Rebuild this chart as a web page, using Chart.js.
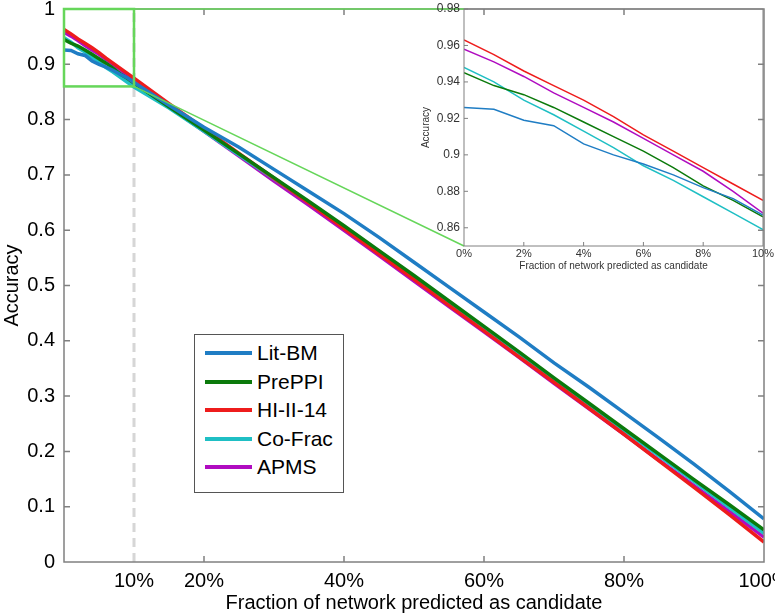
<!DOCTYPE html>
<html>
<head>
<title>Accuracy vs fraction of network</title>
<script src="https://cdn.jsdelivr.net/npm/chart.js"></script>
<style>
    body { margin: 0; background: #fff; }
    #wrap { position: relative; width: 775px; height: 615px; overflow: hidden; }
    #mainChart, #insetChart { position: absolute; top: 0; }
    #mainChart { left: 0; }
    #insetChart { left: 420px; }
    #legend {
        position: absolute; left: 194px; top: 334px; width: 148px; height: 157px;
        border: 1.5px solid #555; background: #fff;
        font-family: 'Liberation Sans', Arial, sans-serif; font-size: 21px; color: #000;
    }
    .row { position: absolute; left: 0; height: 24px; line-height: 24px; white-space: nowrap; }
    .swatch { position: absolute; left: 10px; top: 10px; width: 47px; height: 4px; }
    .lbl { position: absolute; left: 62px; top: 0; }
</style>
</head>
<body>
<div id="wrap">
    <canvas id="mainChart" width="775" height="615"></canvas>
    <canvas id="insetChart" width="355" height="272"></canvas>
    <div id="legend"></div>
</div>
<script>
    const FONT = "'Liberation Sans', Arial, sans-serif";

    const seriesNames = ['Lit-BM', 'PrePPI', 'HI-II-14', 'Co-Frac', 'APMS'];
    const seriesColors = ['#1f7dc4', '#0b7a0b', '#ee1c1c', '#1fbfc4', '#b00cc0'];

    // first 10% (also shown in the zoomed inset)
    const headX = [0, 1, 2, 3, 4, 5, 6, 7, 8, 9, 10];
    const litBmHead  = [0.926, 0.925, 0.919, 0.916, 0.906, 0.900, 0.895, 0.889, 0.882, 0.876, 0.867];
    const prePpiHead = [0.945, 0.938, 0.933, 0.926, 0.918, 0.910, 0.902, 0.893, 0.883, 0.875, 0.866];
    const hiHead     = [0.963, 0.955, 0.946, 0.938, 0.930, 0.921, 0.911, 0.902, 0.893, 0.884, 0.875];
    const coFracHead = [0.948, 0.940, 0.930, 0.922, 0.913, 0.904, 0.894, 0.886, 0.877, 0.868, 0.859];
    const apmsHead   = [0.958, 0.951, 0.943, 0.934, 0.926, 0.918, 0.909, 0.900, 0.891, 0.880, 0.868];

    // rest of the curve
    const tailX = [15, 20, 25, 30, 35, 40, 45, 50, 55, 60, 65, 70, 75, 80, 85, 90, 95, 100];
    const litBmTail  = [0.826, 0.786, 0.750, 0.710, 0.670, 0.630, 0.587, 0.542, 0.497, 0.452, 0.407, 0.360, 0.316, 0.270, 0.224, 0.177, 0.128, 0.078];
    const prePpiTail = [0.823, 0.781, 0.738, 0.695, 0.652, 0.608, 0.563, 0.518, 0.472, 0.426, 0.380, 0.333, 0.287, 0.241, 0.195, 0.149, 0.104, 0.058];
    const hiTail     = [0.829, 0.784, 0.739, 0.694, 0.649, 0.603, 0.557, 0.511, 0.464, 0.418, 0.371, 0.325, 0.278, 0.231, 0.183, 0.135, 0.086, 0.036];
    const coFracTail = [0.821, 0.779, 0.736, 0.693, 0.650, 0.605, 0.560, 0.514, 0.469, 0.423, 0.377, 0.330, 0.284, 0.238, 0.192, 0.146, 0.099, 0.052];
    const apmsTail   = [0.823, 0.779, 0.734, 0.689, 0.645, 0.600, 0.554, 0.508, 0.462, 0.416, 0.370, 0.323, 0.277, 0.231, 0.184, 0.138, 0.092, 0.045];

    const mainXTicks = [10, 20, 40, 60, 80, 100];
    const mainYTicks = [0, 0.1, 0.2, 0.3, 0.4, 0.5, 0.6, 0.7, 0.8, 0.9, 1];
    const insetXTicks = [0, 2, 4, 6, 8, 10];
    const insetYTicks = [0.86, 0.88, 0.9, 0.92, 0.94, 0.96, 0.98];

    const heads = [litBmHead, prePpiHead, hiHead, coFracHead, apmsHead];
    const tails = [litBmTail, prePpiTail, hiTail, coFracTail, apmsTail];

    const GRAY = '#808080';
    const GREEN = '#66d65a';
    // where the inset plot sits on the page
    const insetBox = { left: 464, top: 9, bottom: 246 };

    function toPoints(xs, ys) {
        return xs.map((x, i) => ({ x: x, y: ys[i] }));
    }

    const mainOverlay = {
        id: 'mainOverlay',
        beforeDatasetsDraw(chart) {
            const { ctx, chartArea: a, scales: { x } } = chart;
            const px = x.getPixelForValue(10);
            ctx.save();
            ctx.strokeStyle = '#d6d6d6';
            ctx.lineWidth = 3;
            ctx.setLineDash([9, 6]);
            ctx.beginPath();
            ctx.moveTo(px, a.bottom);
            ctx.lineTo(px, a.top);
            ctx.stroke();
            ctx.restore();
        },
        afterDatasetsDraw(chart) {
            const { ctx, chartArea: a, scales: { x, y } } = chart;
            ctx.save();
            // axis box + inward ticks
            ctx.strokeStyle = GRAY;
            ctx.lineWidth = 1.5;
            ctx.strokeRect(a.left, a.top, a.right - a.left, a.bottom - a.top);
            ctx.beginPath();
            mainYTicks.slice(1, -1).forEach(v => {
                const py = y.getPixelForValue(v);
                ctx.moveTo(a.left, py); ctx.lineTo(a.left + 6, py);
                ctx.moveTo(a.right, py); ctx.lineTo(a.right - 6, py);
            });
            [20, 40, 60, 80].forEach(v => {
                const px = x.getPixelForValue(v);
                ctx.moveTo(px, a.bottom); ctx.lineTo(px, a.bottom - 6);
                ctx.moveTo(px, a.top); ctx.lineTo(px, a.top + 6);
            });
            ctx.stroke();

            // zoom box and connectors to the inset
            const x0 = x.getPixelForValue(0), x1 = x.getPixelForValue(10);
            const yTop = y.getPixelForValue(1), yBot = y.getPixelForValue(0.86);
            ctx.strokeStyle = GREEN;
            ctx.lineWidth = 1.5;
            ctx.beginPath();
            ctx.moveTo(x1, yTop); ctx.lineTo(insetBox.left, insetBox.top);
            ctx.moveTo(x1, yBot); ctx.lineTo(insetBox.left, insetBox.bottom);
            ctx.stroke();
            ctx.lineWidth = 2.5;
            ctx.strokeRect(x0, yTop, x1 - x0, yBot - yTop);
            ctx.restore();
        }
    };

    const mainChart = new Chart(document.getElementById('mainChart'), {
        type: 'line',
        data: {
            datasets: seriesNames.map((name, i) => ({
                label: name,
                data: toPoints(headX.concat(tailX), heads[i].concat(tails[i])),
                borderColor: seriesColors[i],
                borderWidth: 3.5,
                pointRadius: 0,
                tension: 0
            }))
        },
        options: {
            responsive: false,
            animation: false,
            devicePixelRatio: 1,
            layout: { padding: { top: 9, right: 11, left: 0, bottom: 0 } },
            plugins: { legend: { display: false }, tooltip: { enabled: false } },
            scales: {
                x: {
                    type: 'linear', min: 0, max: 100,
                    afterBuildTicks: s => { s.ticks = mainXTicks.map(v => ({ value: v })); },
                    afterFit: s => { s.height = 53; s.paddingLeft = 0; s.paddingRight = 0; },
                    grid: { display: false, drawTicks: false },
                    border: { display: false },
                    ticks: {
                        callback: v => v + '%', color: '#000', padding: 7,
                        maxRotation: 0, autoSkip: false,
                        font: { family: FONT, size: 20 }
                    },
                    title: {
                        display: true, text: 'Fraction of network predicted as candidate',
                        color: '#000', font: { family: FONT, size: 20 }, padding: { top: 0, bottom: 0 }
                    }
                },
                y: {
                    min: 0, max: 1,
                    afterBuildTicks: s => { s.ticks = mainYTicks.map(v => ({ value: v })); },
                    afterFit: s => { s.width = 64; s.paddingTop = 0; s.paddingBottom = 0; },
                    grid: { display: false, drawTicks: false },
                    border: { display: false },
                    ticks: {
                        callback: v => String(Number(v.toFixed(1))), color: '#000', padding: 9,
                        font: { family: FONT, size: 20 }
                    },
                    title: {
                        display: true, text: 'Accuracy',
                        color: '#000', font: { family: FONT, size: 20 }, padding: { top: 0, bottom: 2 }
                    }
                }
            }
        },
        plugins: [mainOverlay]
    });

    const insetOverlay = {
        id: 'insetOverlay',
        afterDatasetsDraw(chart) {
            const { ctx, chartArea: a, scales: { x, y } } = chart;
            ctx.save();
            ctx.strokeStyle = GRAY;
            ctx.lineWidth = 1;
            ctx.strokeRect(a.left, a.top, a.right - a.left, a.bottom - a.top);
            ctx.beginPath();
            insetXTicks.slice(1, -1).forEach(v => {
                const px = x.getPixelForValue(v);
                ctx.moveTo(px, a.bottom); ctx.lineTo(px, a.bottom - 4);
            });
            insetYTicks.forEach(v => {
                const py = y.getPixelForValue(v);
                ctx.moveTo(a.left, py); ctx.lineTo(a.left + 4, py);
            });
            ctx.stroke();
            ctx.restore();
        }
    };

    const insetChart = new Chart(document.getElementById('insetChart'), {
        type: 'line',
        data: {
            datasets: seriesNames.map((name, i) => ({
                label: name,
                data: toPoints(headX, heads[i]),
                borderColor: seriesColors[i],
                borderWidth: 1.5,
                pointRadius: 0,
                tension: 0
            }))
        },
        options: {
            responsive: false,
            animation: false,
            devicePixelRatio: 1,
            layout: { padding: { top: 9, right: 12, left: 0, bottom: 0 } },
            plugins: { legend: { display: false }, tooltip: { enabled: false } },
            scales: {
                x: {
                    type: 'linear', min: 0, max: 10,
                    afterBuildTicks: s => { s.ticks = insetXTicks.map(v => ({ value: v })); },
                    afterFit: s => { s.height = 26; s.paddingLeft = 0; s.paddingRight = 0; },
                    grid: { display: false, drawTicks: false },
                    border: { display: false },
                    ticks: {
                        callback: v => v + '%', color: '#333', padding: 1,
                        maxRotation: 0, autoSkip: false,
                        font: { family: FONT, size: 11 }
                    },
                    title: {
                        display: true, text: 'Fraction of network predicted as candidate',
                        color: '#333', font: { family: FONT, size: 10 }, padding: { top: 0, bottom: 0 }
                    }
                },
                y: {
                    min: 0.85, max: 0.98,
                    afterBuildTicks: s => { s.ticks = insetYTicks.map(v => ({ value: v })); },
                    afterFit: s => { s.width = 44; s.paddingTop = 0; s.paddingBottom = 0; },
                    grid: { display: false, drawTicks: false },
                    border: { display: false },
                    ticks: {
                        callback: v => String(Number(v.toFixed(2))), color: '#333', padding: 4,
                        font: { family: FONT, size: 12 }
                    },
                    title: {
                        display: true, text: 'Accuracy',
                        color: '#333', font: { family: FONT, size: 10 }, padding: { top: 0, bottom: 2 }
                    }
                }
            }
        },
        plugins: [insetOverlay]
    });

    // legend box inside the main plot
    const legend = document.getElementById('legend');
    seriesNames.forEach((name, i) => {
        const row = document.createElement('div');
        row.className = 'row';
        row.style.top = (6 + i * 28.5) + 'px';
        row.style.width = '148px';
        row.innerHTML = '<span class="swatch" style="background:' + seriesColors[i] + '"></span>' +
            '<span class="lbl">' + name + '</span>';
        legend.appendChild(row);
    });
</script>
</body>
</html>
